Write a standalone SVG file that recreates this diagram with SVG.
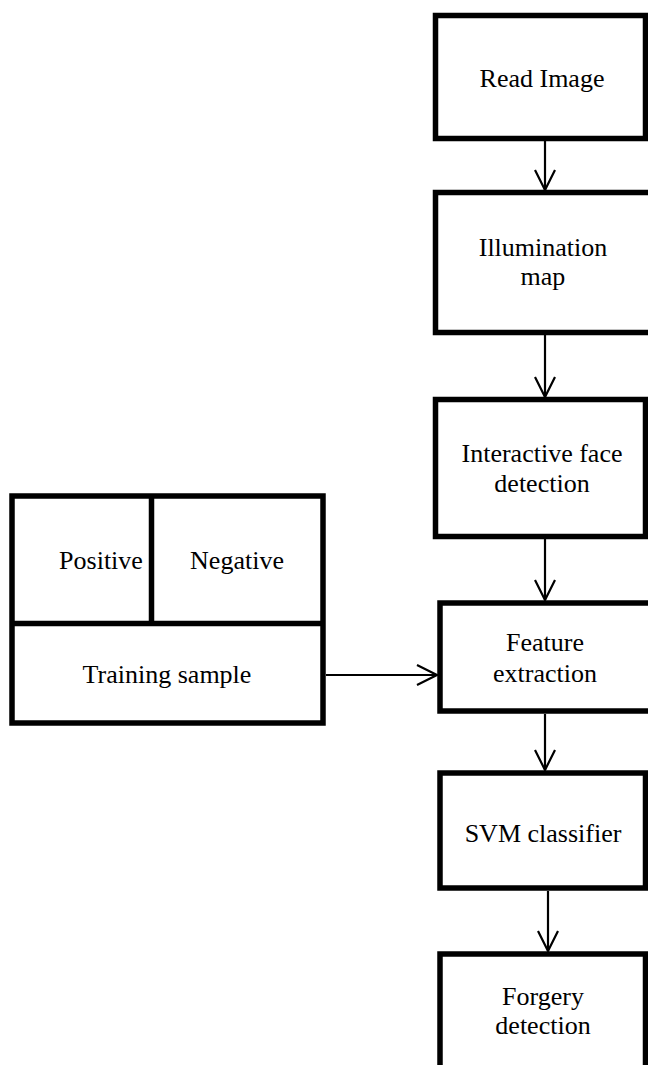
<svg xmlns="http://www.w3.org/2000/svg" width="648" height="1065" viewBox="0 0 648 1065">
<style>
.box{fill:#fff;stroke:#000;stroke-width:5.5}
.t{font-family:"Liberation Serif","Times New Roman",serif;font-size:26px;fill:#000;text-anchor:middle}
.c{stroke:#000;stroke-width:2.2;fill:none}
</style>
<defs>
<marker id="ah" markerWidth="24" markerHeight="24" viewBox="0 0 24 24" refX="21" refY="12" orient="auto" markerUnits="userSpaceOnUse">
<path d="M1,2 L21,12 L1,22" fill="none" stroke="#000" stroke-width="2.2"/>
</marker>
</defs>
<rect width="648" height="1065" fill="#fff"/>
<g id="connectors">
<line class="c" x1="545" y1="141" x2="545" y2="190" marker-end="url(#ah)"/>
<line class="c" x1="545" y1="335" x2="545" y2="397" marker-end="url(#ah)"/>
<line class="c" x1="545" y1="539" x2="545" y2="600" marker-end="url(#ah)"/>
<line class="c" x1="545" y1="714" x2="545" y2="770" marker-end="url(#ah)"/>
<line class="c" x1="548" y1="891" x2="548" y2="951" marker-end="url(#ah)"/>
<line class="c" x1="326" y1="675" x2="437" y2="675" marker-end="url(#ah)"/>
</g>
<g id="read-image">
<rect class="box" x="435.5" y="15.5" width="210" height="123"/>
<text class="t" x="542" y="87">Read Image</text>
</g>
<g id="illumination-map">
<rect class="box" x="435.5" y="192.5" width="216" height="140"/>
<text class="t" x="543" y="256">Illumination</text>
<text class="t" x="543" y="285">map</text>
</g>
<g id="interactive-face-detection">
<rect class="box" x="435.5" y="399.5" width="210" height="137"/>
<text class="t" x="542" y="462">Interactive face</text>
<text class="t" x="542" y="492">detection</text>
</g>
<g id="feature-extraction">
<rect class="box" x="440" y="603" width="214" height="108"/>
<text class="t" x="545" y="651">Feature</text>
<text class="t" x="545" y="682">extraction</text>
</g>
<g id="svm-classifier">
<rect class="box" x="440" y="773" width="205.5" height="115"/>
<text class="t" x="543" y="842">SVM classifier</text>
</g>
<g id="forgery-detection">
<rect class="box" x="440" y="954" width="205.5" height="125"/>
<text class="t" x="543" y="1005">Forgery</text>
<text class="t" x="543" y="1034">detection</text>
</g>
<g id="training-sample">
<rect class="box" x="12" y="496" width="311" height="227"/>
<line x1="151.5" y1="496" x2="151.5" y2="623.5" stroke="#000" stroke-width="5.5"/>
<line x1="12" y1="623.5" x2="323" y2="623.5" stroke="#000" stroke-width="5.5"/>
<text class="t" x="101" y="569">Positive</text>
<text class="t" x="237" y="569">Negative</text>
<text class="t" x="167" y="683">Training sample</text>
</g>
</svg>
